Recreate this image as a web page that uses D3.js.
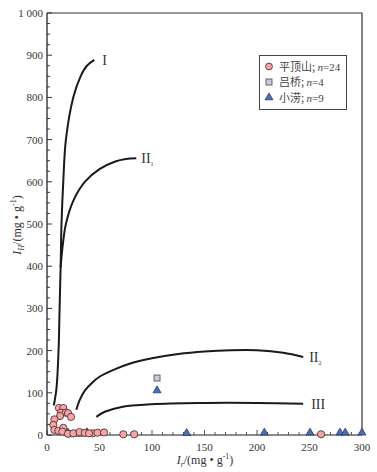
<!DOCTYPE html>
<html><head><meta charset="utf-8">
<script src="https://cdn.jsdelivr.net/npm/d3@7"></script>
<style>body{margin:0;background:#fff}svg{display:block}</style>
</head><body><div id="c"></div>
<script>
// ---- data ----
const xTicks = [0, 50, 100, 150, 200, 250, 300];
const yTicks = [0, 100, 200, 300, 400, 500, 600, 700, 800, 900, 1000];
const yTickLabels = ["0","100","200","300","400","500","600","700","800","900","1 000"];

const curveI   = [[6.5,70],[9,110],[11,200],[12,300],[13,400],[13.8,500],[15.5,600],[18,700],[25,800],[32,850],[38,875],[45,889]];
const curveII1 = [[13,398],[15,450],[18,500],[25,555],[36,600],[50,630],[65,648],[75,654],[85,656]];
const curveII2 = [[28,60],[31,82],[36,105],[43,124],[50,138],[65,156],[80,170],[100,182],[125,192],[150,198],[175,201],[200,201],[225,195],[244,185]];
const curveIII = [[47,43],[55,55],[70,66],[100,73],[150,76],[200,76],[244,74]];
const curveLabels = ["I","II","II","III"];

const pdsX = [11.4,15.5,13.3,17.8,20,22.9,12.4,7,6,7,10.8,15.5,14.6,43.5,48,54.3,72.7,83,261,20,25,31,36,40];
const pdsY = [64,64,53,53,52,43,45,37,24,12,10,17,8,4,5.5,6,1.7,1.7,1.7,3,4,7,5,4];
const lqX = [104.8,22,28,33];
const lqY = [135,3,4,4];
const xlX = [104.8,133,207,250.5,279,284,300,20,38];
const xlY = [103,2,3,3,3,3,3,3,4];

const seriesNames = ["平顶山","吕桥","小涝"];
const seriesN = [24,4,9];

// ---- layout ----
const W = 377, H = 472;
const m = {l:47, r:15, t:13, b:37};
const svg = d3.select("#c").append("svg").attr("width",W).attr("height",H);
const x = d3.scaleLinear().domain([0,300]).range([m.l, W-m.r]);
const y = d3.scaleLinear().domain([0,1000]).range([H-m.b, m.t]);
const serif = "'Liberation Serif','Times New Roman',serif";

// frame
svg.append("path").attr("d",`M${x(0)},${y(1000)}H${x(300)}V${y(0)}`).attr("fill","none").attr("stroke","#333").attr("stroke-width",1.2);

// x axis (ticks inside)
const gx = svg.append("g").attr("transform",`translate(0,${y(0)})`);
gx.append("line").attr("x1",x(0)).attr("x2",x(300)).attr("stroke","#666").attr("stroke-width",1.5);
gx.selectAll("line.mn").data(d3.range(0,301,10)).join("line").attr("class","mn")
  .attr("x1",d=>x(d)).attr("x2",d=>x(d)).attr("y1",0).attr("y2",d=>d%50===0?-5:-3)
  .attr("stroke","#555").attr("stroke-width",1);
gx.selectAll("text").data(xTicks).join("text").attr("x",d=>x(d)).attr("y",16)
  .attr("text-anchor","middle").attr("font-family",serif).attr("font-size",11).attr("fill","#333").text(d=>d);

// y axis
const gy = svg.append("g").attr("transform",`translate(${x(0)},0)`);
gy.append("line").attr("y1",y(0)).attr("y2",y(1000)).attr("stroke","#222").attr("stroke-width",1.3);
gy.selectAll("line.mn").data(d3.range(0,1001,25)).join("line").attr("class","mn")
  .attr("y1",d=>y(d)).attr("y2",d=>y(d)).attr("x1",0).attr("x2",d=>d%100===0?5:3)
  .attr("stroke","#333").attr("stroke-width",1);
gy.selectAll("text").data(yTicks).join("text").attr("x",-4).attr("y",d=>y(d)+4)
  .attr("text-anchor","end").attr("font-family",serif).attr("font-size",11).attr("fill","#333")
  .text((d,i)=>yTickLabels[i]);

// axis titles
const xt = svg.append("text").attr("x",205).attr("y",464).attr("text-anchor","middle")
  .attr("font-family",serif).attr("font-size",12).attr("fill","#333");
xt.append("tspan").attr("font-style","italic").text("I");
xt.append("tspan").attr("font-style","italic").attr("font-size",8).attr("dy",3).text("r");
xt.append("tspan").attr("dy",-3).text("/(mg • g");
xt.append("tspan").attr("font-size",8).attr("dy",-5).text("-1");
xt.append("tspan").attr("dy",5).text(")");

const yt = svg.append("text").attr("transform","translate(21,225) rotate(-90)").attr("text-anchor","middle")
  .attr("font-family",serif).attr("font-size",12).attr("fill","#333");
yt.append("tspan").attr("font-style","italic").text("I");
yt.append("tspan").attr("font-style","italic").attr("font-size",8).attr("dy",3).text("H");
yt.append("tspan").attr("dy",-3).text("/(mg • g");
yt.append("tspan").attr("font-size",8).attr("dy",-5).text("-1");
yt.append("tspan").attr("dy",5).text(")");

// curves
const line = d3.line().x(d=>x(d[0])).y(d=>y(d[1])).curve(d3.curveCatmullRom.alpha(0.5));
[curveI,curveII1,curveII2,curveIII].forEach(c=>{
  svg.append("path").attr("d",line(c)).attr("fill","none").attr("stroke","#1a1a1a").attr("stroke-width",2);
});
// curve labels
const lab = (c, txt, sub, dx) => {
  const e = c[c.length-1];
  const t = svg.append("text").attr("x",x(e[0])+dx).attr("y",y(e[1])+5)
    .attr("font-family",serif).attr("font-size",14).attr("fill","#333");
  t.append("tspan").text(txt);
  if (sub) t.append("tspan").attr("font-size",6).attr("dy",3).text(sub);
};
lab(curveI, curveLabels[0], null, 8);
lab(curveII1, curveLabels[1], "1", 5);
lab(curveII2, curveLabels[2], "2", 6);
lab(curveIII, curveLabels[3], null, 8);

// markers
const pds = pdsX.map((v,i)=>[v,pdsY[i]]);
const lq = lqX.map((v,i)=>[v,lqY[i]]);
const xl = xlX.map((v,i)=>[v,xlY[i]]);
svg.append("g").selectAll("rect").data(lq).join("rect")
  .attr("x",d=>x(d[0])-3).attr("y",d=>y(d[1])-3).attr("width",6).attr("height",6)
  .attr("fill","#c9c8e6").attr("stroke","#555").attr("stroke-width",0.9);
const tri = d3.symbol().type(d3.symbolTriangle).size(27);
svg.append("g").selectAll("path").data(xl).join("path")
  .attr("transform",d=>`translate(${x(d[0])},${y(d[1])-1})`).attr("d",tri)
  .attr("fill","#4a70b8").attr("stroke","#22386a").attr("stroke-width",0.8);
svg.append("g").selectAll("circle").data(pds).join("circle")
  .attr("cx",d=>x(d[0])).attr("cy",d=>y(d[1])).attr("r",3.6)
  .attr("fill","#f3a5a8").attr("stroke","#5a3030").attr("stroke-width",0.9);

// legend
const lg = svg.append("g");
lg.append("rect").attr("x",259.5).attr("y",55.5).attr("width",87).attr("height",54)
  .attr("fill","#fff").attr("stroke","#444").attr("stroke-width",1);
const rows = [66.5, 82, 97.5];
lg.append("circle").attr("cx",269).attr("cy",rows[0]).attr("r",3.4).attr("fill","#f3a5a8").attr("stroke","#5a3030").attr("stroke-width",0.9);
lg.append("rect").attr("x",266).attr("y",rows[1]-3).attr("width",6).attr("height",6).attr("fill","#c9c8e6").attr("stroke","#555").attr("stroke-width",0.9);
lg.append("path").attr("transform",`translate(269,${rows[2]})`).attr("d",tri).attr("fill","#4a70b8").attr("stroke","#22386a").attr("stroke-width",0.8);
seriesNames.forEach((nm,i)=>{
  const t = lg.append("text").attr("x",279).attr("y",rows[i]+4).attr("font-size",11).attr("fill","#444")
    .attr("font-family","'Noto Sans CJK SC','Liberation Serif',serif");
  t.append("tspan").text(nm+"; ");
  t.append("tspan").attr("font-family",serif).attr("font-style","italic").text("n");
  t.append("tspan").attr("font-family",serif).text("="+seriesN[i]);
});
</script></body></html>
